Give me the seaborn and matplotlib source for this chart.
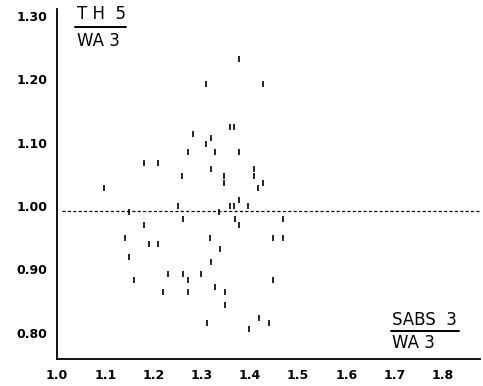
import matplotlib
matplotlib.use("Agg")
import matplotlib.pyplot as plt
import seaborn as sns
import pandas as pd

# SABS 3 / WA 3 ratio (x) and TH 5 / WA 3 ratio (y)
sabs_ratio = [1.377, 1.309, 1.427, 1.358, 1.367, 1.282, 1.319, 1.309, 1.272, 1.327,
              1.377, 1.180, 1.209, 1.319, 1.408, 1.259, 1.346, 1.408, 1.346, 1.427,
              1.097, 1.417, 1.377, 1.251, 1.358, 1.367, 1.396, 1.149, 1.336, 1.261,
              1.369, 1.468, 1.180, 1.377, 1.141, 1.317, 1.448, 1.468, 1.191, 1.209,
              1.338, 1.149, 1.319, 1.230, 1.261, 1.298, 1.448, 1.159, 1.272, 1.327,
              1.220, 1.272, 1.348, 1.348, 1.419, 1.311, 1.439, 1.398]
th_ratio = [1.232, 1.193, 1.193, 1.125, 1.125, 1.114, 1.107, 1.097, 1.085, 1.085,
            1.085, 1.067, 1.067, 1.058, 1.058, 1.047, 1.047, 1.047, 1.037, 1.037,
            1.028, 1.028, 1.009, 1.000, 1.000, 1.000, 1.000, 0.990, 0.990, 0.979,
            0.979, 0.979, 0.970, 0.970, 0.949, 0.949, 0.949, 0.949, 0.940, 0.940,
            0.932, 0.919, 0.912, 0.893, 0.893, 0.893, 0.883, 0.883, 0.883, 0.872,
            0.864, 0.864, 0.864, 0.844, 0.824, 0.816, 0.816, 0.806]
mean_level = 0.992
x_ticks = [1.0, 1.1, 1.2, 1.3, 1.4, 1.5, 1.6, 1.7, 1.8]
x_tick_labels = ["1.0", "1.1", "1.2", "1.3", "1.4", "1.5", "1.6", "1.7", "1.8"]
y_ticks = [0.80, 0.90, 1.00, 1.10, 1.20, 1.30]
y_tick_labels = ["0.80", "0.90", "1.00", "1.10", "1.20", "1.30"]

df = pd.DataFrame({"x": sabs_ratio, "y": th_ratio})

sns.set_style("white")
plt.rcParams["font.family"] = ["DejaVu Sans"]
plt.rcParams["text.color"] = "black"
plt.rcParams["xtick.color"] = "black"
plt.rcParams["ytick.color"] = "black"

fig = plt.figure(figsize=(4.83, 3.86), dpi=100)
ax = fig.add_axes([57 / 483, 27 / 386, 423 / 483, 350.4 / 386])

sns.scatterplot(data=df, x="x", y="y", marker="|", s=24, color="black",
                linewidth=1.2, ax=ax, legend=False)
ax.axhline(mean_level, xmin=0.012, xmax=1.0, color="black", lw=0.9,
           linestyle=(0, (2.5, 1.8)))

ax.set_xlim(1.0, 1.877)
ax.set_ylim(0.759, 1.311)
ax.set_xticks(x_ticks)
ax.set_xticklabels(x_tick_labels, fontweight="bold")
ax.set_yticks(y_ticks)
ax.set_yticklabels(y_tick_labels, fontweight="bold")
ax.set_xlabel("")
ax.set_ylabel("")

for s in ["top", "right"]:
    ax.spines[s].set_visible(False)
for s in ["left", "bottom"]:
    ax.spines[s].set_linewidth(1.3)
    ax.spines[s].set_color("black")

ax.tick_params(axis="both", direction="out", length=4, width=1.2, colors="black",
               labelsize=9)
ax.tick_params(axis="x", pad=3)
ax.tick_params(axis="y", pad=3)

# Ratio labels
ax.text(0.047, 0.985, "T H  5", transform=ax.transAxes, fontsize=12,
        ha="left", va="center")
ax.plot([0.0426, 0.163], [0.9475, 0.9475], transform=ax.transAxes, color="black", lw=1.4)
ax.text(0.047, 0.9075, "WA 3", transform=ax.transAxes, fontsize=12,
        ha="left", va="center")

ax.text(0.792, 0.111, "SABS  3", transform=ax.transAxes, fontsize=12,
        ha="left", va="center")
ax.plot([0.790, 0.950], [0.080, 0.080], transform=ax.transAxes, color="black", lw=1.4)
ax.text(0.792, 0.0457, "WA 3", transform=ax.transAxes, fontsize=12,
        ha="left", va="center")

fig.savefig("out.png", dpi=100)
